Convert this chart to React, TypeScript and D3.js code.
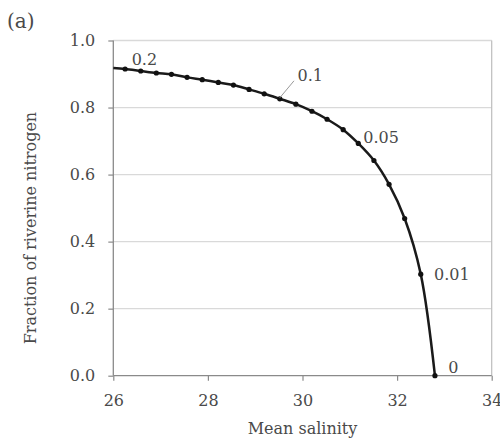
import React, { useEffect, useRef } from "react";
import * as d3 from "d3";

// values
const salinity = [26.0, 26.25, 26.58, 26.91, 27.23, 27.56, 27.88, 28.22, 28.54, 28.87, 29.19, 29.52, 29.86, 30.2, 30.52, 30.86, 31.18, 31.51, 31.83, 32.16, 32.5, 32.8];
const fraction = [0.918, 0.915, 0.909, 0.903, 0.899, 0.89, 0.883, 0.875, 0.867, 0.854, 0.841, 0.826, 0.81, 0.789, 0.765, 0.734, 0.693, 0.642, 0.571, 0.469, 0.303, 0];
const labelText = ["0.2", "0.1", "0.05", "0.01", "0"];
const labelIndex = [1, 11, 16, 20, 21];
const xTicks = [26, 28, 30, 32, 34];
const yTicks = [0, 0.2, 0.4, 0.6, 0.8, 1.0];

// label offsets from their point (px)
const labelOffset = [
  { dx: 6.5, dy: -4 },
  { dx: 17.7, dy: -18 },
  { dx: 5, dy: 0 },
  { dx: 13.3, dy: 6 },
  { dx: 13.3, dy: -2.4 },
];

const FONT = "'DejaVu Serif', serif";
const TEXT = "#4a4a4a";

const App = () => {
  const ref = useRef<SVGSVGElement>(null);

  useEffect(() => {
    const svg = d3.select(ref.current);
    svg.selectAll("*").remove();

    const width = 500;
    const height = 443;

    const x = d3.scaleLinear().domain([26, 34]).range([113.3, 491.7]);
    const y = d3.scaleLinear().domain([0, 1]).range([375.7, 40.5]);

    svg.attr("width", width).attr("height", height);

    // gridlines
    svg.append("g")
      .selectAll("line")
      .data(yTicks.slice(1))
      .enter()
      .append("line")
      .attr("x1", x(26))
      .attr("x2", x(34))
      .attr("y1", d => y(d))
      .attr("y2", d => y(d))
      .attr("stroke", "#d9d9d9")
      .attr("stroke-width", 1.3);

    // right border
    svg.append("line")
      .attr("x1", x(34)).attr("x2", x(34))
      .attr("y1", y(0)).attr("y2", y(1))
      .attr("stroke", "#bdbdbd")
      .attr("stroke-width", 1.2);

    // axes
    const yAxis = svg.append("g")
      .attr("transform", `translate(${x(26)},0)`)
      .call(d3.axisLeft(y).tickValues(yTicks).tickFormat(d3.format(".1f")).tickSize(5).tickPadding(13));
    const xAxis = svg.append("g")
      .attr("transform", `translate(0,${y(0)})`)
      .call(d3.axisBottom(x).tickValues(xTicks).tickSize(5).tickPadding(14));

    [yAxis, xAxis].forEach(g => {
      g.select(".domain").attr("stroke", "#8a8a8a").attr("stroke-width", 1.3);
      g.selectAll(".tick line").attr("stroke", "#8a8a8a").attr("stroke-width", 1.2);
      g.selectAll(".tick text")
        .attr("font-family", FONT)
        .attr("font-size", 16)
        .attr("fill", TEXT);
    });
    xAxis.select(".domain").attr("d", `M${x(26)},0H${x(34)}`);
    yAxis.select(".domain").attr("d", `M0,${y(0)}V${y(1)}`);

    // curve
    const pts = salinity.map((s, i) => ({ s, f: fraction[i] }));
    const line = d3.line<{ s: number; f: number }>()
      .x(d => x(d.s))
      .y(d => y(d.f))
      .curve(d3.curveCatmullRom.alpha(0.5));

    svg.append("path")
      .datum(pts)
      .attr("d", line)
      .attr("fill", "none")
      .attr("stroke", "#1a1a1a")
      .attr("stroke-width", 2.5);

    svg.selectAll("circle.pt")
      .data(pts.slice(1))
      .enter()
      .append("circle")
      .attr("cx", d => x(d.s))
      .attr("cy", d => y(d.f))
      .attr("r", 2.6)
      .attr("fill", "#111");

    // labels
    labelText.forEach((t, i) => {
      const p = pts[labelIndex[i]];
      const px = x(p.s);
      const py = y(p.f);
      const o = labelOffset[i];
      if (t === "0.1") {
        svg.append("line")
          .attr("x1", px).attr("y1", py - 1)
          .attr("x2", px + o.dx - 3.5).attr("y2", py + o.dy)
          .attr("stroke", "#999")
          .attr("stroke-width", 1);
      }
      svg.append("text")
        .attr("x", px + o.dx)
        .attr("y", py + o.dy)
        .attr("font-family", FONT)
        .attr("font-size", 16)
        .attr("fill", TEXT)
        .text(t);
    });

    // titles
    svg.append("text")
      .attr("x", (x(26) + x(34)) / 2)
      .attr("y", 434)
      .attr("text-anchor", "middle")
      .attr("font-family", FONT)
      .attr("font-size", 16)
      .attr("fill", TEXT)
      .text("Mean salinity");

    svg.append("text")
      .attr("transform", `translate(36,${(y(0) + y(1)) / 2 + 20}) rotate(-90)`)
      .attr("text-anchor", "middle")
      .attr("font-family", FONT)
      .attr("font-size", 16)
      .attr("fill", TEXT)
      .text("Fraction of riverine nitrogen");

    svg.append("text")
      .attr("x", 7)
      .attr("y", 28)
      .attr("font-family", FONT)
      .attr("font-size", 20)
      .attr("fill", TEXT)
      .text("(a)");
  }, []);

  return <svg ref={ref} style={{ position: "absolute", left: 0, top: 0 }}></svg>;
};

export default App;
